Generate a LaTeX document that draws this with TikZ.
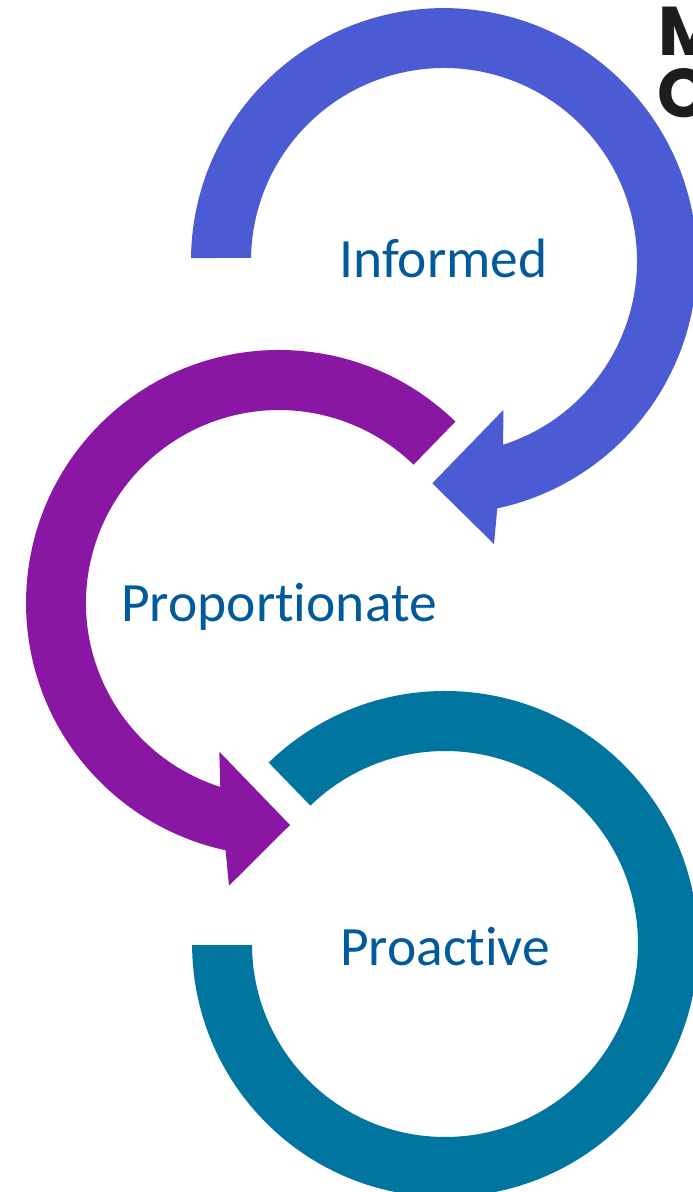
\documentclass[tikz,border=0pt]{standalone}
\usepackage{fontspec}
\setmainfont[Ligatures=NoCommon]{Carlito}
\newfontfamily\logofont{Poppins}
\definecolor{ringblue}{HTML}{4B5BD4}
\definecolor{ringpurple}{HTML}{8A17A3}
\definecolor{ringteal}{HTML}{00759F}
\definecolor{labelblue}{HTML}{005A9C}
\definecolor{logoink}{HTML}{1D1D1B}
\tikzset{
  ringlabel/.style={anchor=base,inner sep=0pt,text=labelblue,font=\fontsize{55.5}{55.5}\selectfont},
  logoletter/.style={anchor=base west,inner sep=0pt,text=logoink,font=\logofont\bfseries\fontsize{69}{69}\selectfont}
}
\begin{document}
\begin{tikzpicture}[x=1pt,y=1pt]
\useasboundingbox (0,0) rectangle (693,-1192);
\clip (0,0) rectangle (693,-1192);
\fill[white] (0,0) rectangle (693,-1192);
\node[logoletter] (logoM) at (658,-55) {M};
\node[logoletter] (logoC) at (657,-117) {C};
\fill[ringblue] (191,-258) arc[start angle=179.3,end angle=-77.84,radius=253pt]
  -- (494,-544) -- (432.3,-483.3) -- (503.3,-410) -- (503.2,-444.7)
  arc[start angle=-72.13,end angle=179.1,radius=193pt] -- cycle;
\fill[ringpurple] (455.4,-421.6) arc[start angle=45.8,end angle=257.8,radius=253pt]
  -- (229,-885.7) -- (290,-825) -- (219.3,-751.7) -- (220.3,-786.9)
  arc[start angle=252.3,end angle=45.8,radius=193pt] -- cycle;
\fill[ringteal] (268.7,-762.6) arc[start angle=134.2,end angle=-179.75,radius=253pt]
  -- (252,-945) arc[start angle=-179.7,end angle=134.2,radius=193pt] -- cycle;
\node[ringlabel] (informed) at (443.5,-277) {Informed};
\node[ringlabel] (proportionate) at (279,-621) {Proportionate};
\node[ringlabel] (proactive) at (445,-965) {Proactive};
\end{tikzpicture}
\end{document}
